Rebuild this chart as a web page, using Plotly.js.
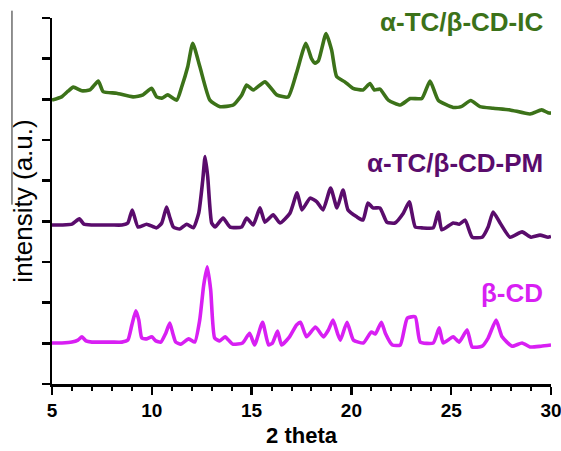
<!DOCTYPE html>
<html>
<head>
<meta charset="utf-8">
<script src="https://cdn.plot.ly/plotly-3.0.1.min.js"></script>
<style>html,body{margin:0;padding:0;background:#fff;}#chart{width:561px;height:451px;}</style>
</head>
<body>
<div id="chart"></div>
<script>
// 2-theta positions and offset intensities (a.u.)
const icX = [5.0,5.48,5.8,6.07,6.49,6.9,7.32,7.56,8.24,9.06,9.56,9.99,10.24,10.5,10.8,11.25,11.5,11.8,12.05,12.41,12.91,13.42,14.08,14.5,14.75,15.08,15.67,16.26,16.83,17.25,17.72,18.0,18.18,18.35,18.73,19.01,19.26,19.67,20.08,20.58,20.93,21.15,21.43,21.85,22.45,22.95,23.53,23.94,24.35,25.1,25.5,25.98,26.44,27.1,27.95,28.95,29.53,29.85,30.0];
const icY = [6.98,7.06,7.2,7.30,7.21,7.23,7.45,7.19,7.15,7.06,7.11,7.27,7.06,7.03,7.11,6.98,7.31,7.8,8.38,7.80,6.98,6.82,6.86,7.1,7.35,7.23,7.43,7.11,7.06,7.65,8.38,8.0,7.89,7.95,8.62,8.21,7.56,7.43,7.27,7.23,7.39,7.23,7.25,6.98,6.86,7.02,7.02,7.45,6.98,6.80,6.82,6.97,6.82,6.78,6.74,6.64,6.74,6.67,6.66];

const pmX = [5.0,5.5,6.0,6.37,6.6,7.0,7.5,8.0,8.5,8.8,9.02,9.31,9.74,10.24,10.5,10.74,10.9,11.08,11.4,11.75,12.08,12.35,12.55,12.67,12.8,13.0,13.17,13.57,13.92,14.5,14.75,15.08,15.42,15.67,16.08,16.42,16.92,17.28,17.52,17.93,18.27,18.58,18.96,19.28,19.58,19.83,20.27,20.58,20.83,21.08,21.43,21.78,22.18,22.6,22.9,23.2,23.53,24.1,24.35,24.53,25.1,25.4,25.7,26.05,26.55,26.85,27.1,27.45,27.95,28.55,29.0,29.45,29.85,30.0];
const pmY = [3.91,3.91,3.93,4.06,3.93,3.91,3.91,3.91,3.91,3.96,4.28,3.86,3.93,3.84,3.96,4.35,4.1,3.86,3.81,3.93,3.84,4.2,5.0,5.59,5.1,3.96,3.86,4.08,3.86,3.86,4.08,3.91,4.33,3.98,4.16,3.96,4.20,4.70,4.28,4.57,4.48,4.28,4.82,4.33,4.77,4.28,4.11,4.03,4.45,4.33,4.33,3.98,3.96,4.20,4.48,3.86,3.84,3.84,4.23,3.79,3.96,3.93,4.03,3.61,3.61,3.86,4.23,3.96,3.61,3.74,3.61,3.66,3.61,3.63];

const cdX = [5.0,5.5,6.0,6.3,6.5,6.7,7.0,7.5,8.0,8.5,8.8,9.0,9.2,9.35,9.5,9.75,10.0,10.2,10.45,10.7,10.9,11.05,11.2,11.45,11.85,12.15,12.4,12.6,12.78,12.95,13.15,13.4,13.67,14.05,14.55,14.9,15.15,15.55,15.85,16.05,16.3,16.5,16.9,17.25,17.45,17.75,18.2,18.6,18.85,19.08,19.3,19.45,19.78,20.1,20.6,21.0,21.2,21.5,21.7,22.05,22.45,22.8,23.2,23.45,24.1,24.4,24.6,25.1,25.4,25.8,26.05,26.55,26.85,27.25,27.55,28.05,28.55,28.95,29.5,30.0];
const cdY = [1.01,1.01,1.03,1.08,1.16,1.06,1.03,1.03,1.03,1.03,1.08,1.45,1.80,1.57,1.13,1.11,1.16,1.06,1.03,1.25,1.50,1.25,1.03,0.98,1.11,1.03,1.57,2.43,2.88,2.31,1.13,1.06,1.16,0.98,1.01,1.25,0.96,1.52,0.96,1.01,1.30,0.96,1.16,1.45,1.52,1.16,1.40,1.16,1.33,1.57,1.25,1.08,1.52,1.08,1.01,1.28,1.23,1.52,1.25,0.96,0.96,1.62,1.65,1.03,1.01,1.38,1.01,1.16,1.03,1.33,0.91,0.93,1.13,1.57,1.16,0.93,1.01,0.91,0.93,0.96];

const seriesNames = ["α-TC/β-CD-IC","α-TC/β-CD-PM","β-CD"];
const xTickVals = [5,10,15,20,25,30];
const yTickVals = [0,1,2,3,4,5,6,7,8,9];

const cGreen = "#3c7219", cPurple = "#5a0c6c", cMag = "#d81ff3";
const F = "Liberation Sans, Arial, sans-serif";

const mk = (x,y,c,n)=>({x:x,y:y,type:"scatter",mode:"lines",name:n,
  line:{color:c,width:3.6,shape:"spline",smoothing:0.5},hoverinfo:"skip"});

const data = [mk(icX,icY,cGreen,seriesNames[0]), mk(pmX,pmY,cPurple,seriesNames[1]), mk(cdX,cdY,cMag,seriesNames[2])];

const layout = {
  width:561, height:451,
  margin:{l:52,r:10,t:18,b:67},
  paper_bgcolor:"#fff", plot_bgcolor:"#fff",
  showlegend:false,
  xaxis:{range:[5,30], tickvals:xTickVals, ticktext:xTickVals.map(String),
    ticklabeloverflow:"allow",
    showgrid:false, zeroline:false, showline:true, linecolor:"#000", linewidth:2.5,
    ticks:"outside", ticklen:8, tickwidth:2.5, tickcolor:"#000",
    minor:{dtick:1, ticks:"outside", ticklen:4, tickwidth:2, tickcolor:"#000", showgrid:false},
    tickfont:{family:F,size:19,color:"#000",weight:"bold"},
    title:{text:"2 theta", font:{family:F,size:22,color:"#000",weight:"bold"}, standoff:8}},
  yaxis:{range:[0,9], tickvals:yTickVals, showticklabels:false,
    showgrid:false, zeroline:false, showline:true, linecolor:"#000", linewidth:2.5,
    ticks:"outside", ticklen:8, tickwidth:2.5, tickcolor:"#000",
    title:{text:"intensity (a.u.)", font:{family:F,size:26,color:"#000"}, standoff:2}},
  annotations:[
    {text:"<b>"+seriesNames[0]+"</b>", xref:"paper", yref:"paper", x:0.988, y:0.989, xanchor:"right", yanchor:"middle", showarrow:false, font:{family:F,size:26,color:cGreen}},
    {text:"<b>"+seriesNames[1]+"</b>", xref:"paper", yref:"paper", x:0.988, y:0.604, xanchor:"right", yanchor:"middle", showarrow:false, font:{family:F,size:26,color:cPurple}},
    {text:"<b>"+seriesNames[2]+"</b>", xref:"paper", yref:"paper", x:0.988, y:0.249, xanchor:"right", yanchor:"middle", showarrow:false, font:{family:F,size:26,color:cMag}}
  ],
  shapes:[
    {type:"line", xref:"paper", yref:"paper", x0:-0.0802, x1:-0.0802, y0:1.02, y1:0.49, line:{color:"#222",width:1}}
  ]
};
Plotly.newPlot("chart", data, layout, {staticPlot:true, displayModeBar:false});
</script>
</body>
</html>
